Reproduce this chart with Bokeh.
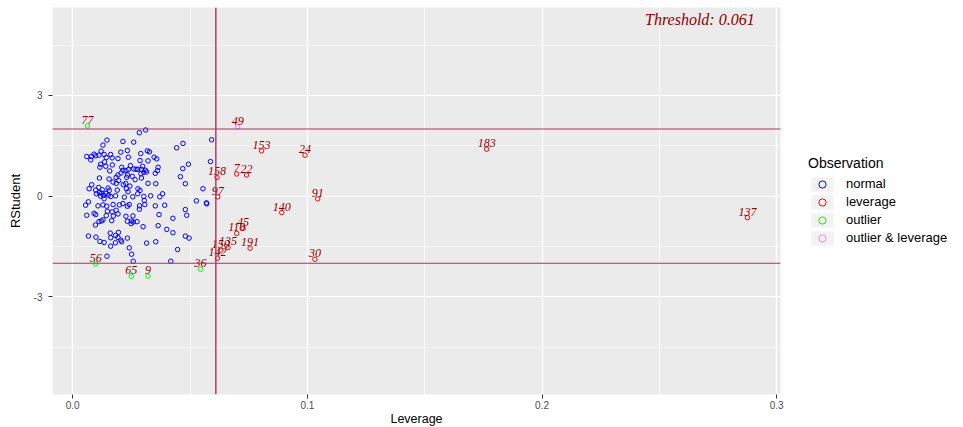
from bokeh.plotting import figure
from bokeh.models import (Range1d, FixedTicker, Span, Label, Legend, LegendItem,
                          ColumnDataSource)
from bokeh.core.properties import value
from bokeh.embed import file_html
from bokeh.resources import INLINE

# ---------------- data ----------------
threshold = 0.061
rstudent_limits = [-2, 2]

x_ticks = [0.0, 0.1, 0.2, 0.3]
x_tick_labels = ["0.0", "0.1", "0.2", "0.3"]
x_minor = [0.05, 0.15, 0.25]
y_ticks = [-3, 0, 3]
y_tick_labels = ["-3", "0", "3"]
y_minor = [-4.5, -1.5, 1.5, 4.5]

normal_lev = [0.0311,0.0284,0.0146,0.0214,0.0260,0.0129,0.0592,0.0470,0.0443,0.0121,
              0.0233,0.0205,0.0318,0.0327,0.0290,0.0091,0.0098,0.0080,0.0060,0.0077,
              0.0112,0.0134,0.0162,0.0168,0.0143,0.0193,0.0237,0.0347,0.0358,0.0321,
              0.0136,0.0287,0.0119,0.0116,0.0141,0.0158,0.0169,0.0493,0.0209,0.0246,
              0.0260,0.0237,0.0227,0.0214,0.0206,0.0193,0.0278,0.0270,0.0293,0.0310,
              0.0315,0.0303,0.0291,0.0364,0.0361,0.0352,0.0298,0.0469,0.0587,0.0114,
              0.0155,0.0185,0.0196,0.0186,0.0172,0.0234,0.0230,0.0254,0.0216,0.0226,
              0.0244,0.0266,0.0293,0.0321,0.0354,0.0459,0.0480,0.0081,0.0070,0.0098,
              0.0111,0.0126,0.0124,0.0151,0.0156,0.0142,0.0131,0.0119,0.0114,0.0101,
              0.0134,0.0190,0.0229,0.0236,0.0278,0.0287,0.0277,0.0183,0.0162,0.0152,
              0.0220,0.0256,0.0303,0.0332,0.0371,0.0383,0.0305,0.0555,0.0527,0.0570,
              0.0571,0.0055,0.0067,0.0108,0.0129,0.0145,0.0172,0.0199,0.0214,0.0233,
              0.0241,0.0285,0.0307,0.0352,0.0392,0.0480,0.0486,0.0148,0.0168,0.0185,
              0.0193,0.0173,0.0143,0.0098,0.0091,0.0060,0.0227,0.0257,0.0284,0.0368,
              0.0122,0.0112,0.0129,0.0097,0.0166,0.0233,0.0250,0.0258,0.0274,0.0249,
              0.0300,0.0364,0.0401,0.0427,0.0427,0.0067,0.0099,0.0116,0.0134,0.0160,
              0.0162,0.0183,0.0195,0.0193,0.0209,0.0182,0.0162,0.0233,0.0205,0.0480,
              0.0496,0.0315,0.0354,0.0241,0.0251,0.0146,0.0447,0.0258,0.0418]
normal_rstud = [1.97,1.89,1.67,1.63,1.61,1.52,1.68,1.57,1.44,1.34,
                1.36,1.31,1.35,1.32,1.27,1.25,1.20,1.18,1.18,1.08,
                1.22,1.24,1.24,1.14,1.15,1.12,1.16,1.16,1.11,1.05,
                1.02,1.06,0.95,0.86,0.89,0.75,0.93,0.95,0.86,0.91,
                0.81,0.79,0.76,0.77,0.69,0.63,0.80,0.80,0.80,0.77,
                0.72,0.71,0.67,0.86,0.76,0.68,0.89,0.82,1.03,0.54,
                0.51,0.56,0.46,0.38,0.42,0.63,0.56,0.59,0.34,0.38,
                0.30,0.49,0.54,0.38,0.37,0.58,0.37,0.34,0.22,0.18,
                0.26,0.19,0.09,0.24,0.17,0.08,0.02,0.00,0.10,0.07,
                -0.08,0.18,0.22,0.13,0.22,0.17,0.07,0.01,-0.01,0.03,
                -0.03,-0.02,-0.01,0.01,-0.02,0.07,-0.13,0.22,-0.14,-0.20,
                -0.23,-0.27,-0.17,-0.29,-0.26,-0.30,-0.25,-0.26,-0.22,-0.30,
                -0.25,-0.29,-0.25,-0.29,-0.27,-0.40,-0.57,-0.45,-0.47,-0.42,
                -0.53,-0.59,-0.58,-0.55,-0.51,-0.57,-0.60,-0.59,-0.39,-0.55,
                -0.74,-0.76,-0.71,-0.86,-0.73,-0.75,-0.74,-0.77,-0.76,-0.82,
                -0.91,-0.88,-0.99,-1.09,-0.66,-1.19,-1.22,-1.35,-1.38,-1.10,
                -1.24,-1.17,-1.08,-1.23,-1.36,-1.39,-1.49,-1.25,-1.31,-1.19,
                -1.25,-1.40,-1.36,-1.54,-1.73,-1.79,-1.59,-1.94,-1.94]

leverage_ids = ["158", "7", "22", "153", "24", "97", "91", "140", "45", "110",
                "191", "135", "150", "142", "30", "183", "137"]
leverage_lev = [0.0615, 0.0699, 0.0741, 0.0805, 0.0990, 0.0618, 0.1044, 0.0891, 0.0726, 0.0699,
                0.0756, 0.0662, 0.0631, 0.0617, 0.1032, 0.1764, 0.2875]
leverage_rstud = [0.56, 0.66, 0.63, 1.35, 1.22, -0.02, -0.08, -0.49, -0.96, -1.11,
                  -1.55, -1.53, -1.61, -1.85, -1.88, 1.40, -0.64]

outlier_ids = ["77", "56", "65", "9", "36"]
outlier_lev = [0.0063, 0.0098, 0.0250, 0.0321, 0.0545]
outlier_rstud = [2.09, -2.02, -2.39, -2.38, -2.18]

both_ids = ["49"]
both_lev = [0.0703]
both_rstud = [2.06]

groups = ["normal", "leverage", "outlier", "outlier & leverage"]
group_colors = ["#0000FF", "#FF0000", "#00FF00", "#EE82EE"]

# ---------------- figure ----------------
SANS = "Liberation Sans"
SERIF = "Liberation Serif"

p = figure(frame_width=728, frame_height=387,
           x_range=Range1d(-0.0086, 0.3016), y_range=Range1d(-5.91, 5.62),
           output_backend="svg", toolbar_location=None,
           min_border_left=52, min_border_right=183, min_border_top=7, min_border_bottom=30,
           background_fill_color="#EBEBEB", border_fill_color="white",
           outline_line_color=None)

p.xaxis.ticker = FixedTicker(ticks=x_ticks, minor_ticks=x_minor)
p.yaxis.ticker = FixedTicker(ticks=y_ticks, minor_ticks=y_minor)
p.xaxis.major_label_overrides = dict(zip(x_ticks, x_tick_labels))
p.yaxis.major_label_overrides = dict(zip(y_ticks, y_tick_labels))

for ax in (p.xaxis, p.yaxis):
    ax.axis_line_color = None
    ax.major_tick_line_color = "#333333"
    ax.major_tick_in = 0
    ax.major_tick_out = 4
    ax.minor_tick_line_color = None
    ax.major_label_text_font = SANS
    ax.major_label_text_font_size = "10px"
    ax.major_label_text_color = "#4D4D4D"
    ax.axis_label_text_font = SANS
    ax.axis_label_text_font_style = "normal"
    ax.axis_label_text_font_size = "13px"
    ax.axis_label_text_color = "#000000"

p.xaxis.axis_label = "Leverage"
p.yaxis.axis_label = "RStudent"
p.xaxis.axis_label_text_font_size = "12.5px"
p.xaxis.major_label_standoff = 2
p.xaxis.axis_label_standoff = 0
p.yaxis.major_label_standoff = 6
p.yaxis.axis_label_standoff = 8

p.xgrid.grid_line_color = "white"
p.xgrid.grid_line_width = 1.4
p.xgrid.minor_grid_line_color = "white"
p.xgrid.minor_grid_line_width = 0.7
p.ygrid.grid_line_color = "white"
p.ygrid.grid_line_width = 1.0
p.ygrid.minor_grid_line_color = "white"
p.ygrid.minor_grid_line_width = 0.5

# threshold reference lines
for v in rstudent_limits:
    p.add_layout(Span(location=v, dimension="width", line_color="#B03060", line_width=1))
p.add_layout(Span(location=threshold, dimension="height", line_color="#B03060", line_width=1.4))

# legend key backgrounds (a renderer with no visible mark)
nan = float("nan")
key_bg = p.quad(left=[nan], right=[nan], top=[nan], bottom=[nan],
                fill_color="#F2F2F2", line_color=None)

sources = [
    ColumnDataSource(dict(x=normal_lev, y=normal_rstud)),
    ColumnDataSource(dict(x=leverage_lev, y=leverage_rstud, t=leverage_ids)),
    ColumnDataSource(dict(x=outlier_lev, y=outlier_rstud, t=outlier_ids)),
    ColumnDataSource(dict(x=both_lev, y=both_rstud, t=both_ids)),
]

renderers = []
for src, col in zip(sources, group_colors):
    r = p.scatter("x", "y", source=src, marker="circle", size=4.5,
                  fill_color=None, line_color=col, line_width=1)
    renderers.append(r)

for src in sources[1:]:
    p.text("x", "y", text="t", source=src, text_font=value(SERIF),
           text_font_style="italic", text_font_size="12px", text_color="#8B0000",
           text_align="center", text_baseline="alphabetic", y_offset=-6)

p.add_layout(Label(x=0.2906, y=5.27, text="Threshold: " + str(threshold),
                   text_font=SERIF, text_font_style="italic", text_font_size="16px",
                   text_color="#8B0000", text_align="right", text_baseline="middle"))

legend = Legend(items=[LegendItem(label=g, renderers=[key_bg, r]) for g, r in zip(groups, renderers)],
                title="Observation", location="center_left",
                title_text_font=SANS, title_text_font_size="14px", title_text_font_style="normal",
                title_text_color="#000000", title_standoff=4,
                label_text_font=SANS, label_text_font_size="13px", label_text_color="#000000",
                glyph_width=28, glyph_height=18, label_height=18, label_standoff=10,
                spacing=0, padding=0, margin=28, border_line_color=None,
                background_fill_alpha=0)
p.add_layout(legend, "right")

open("out.html", "w").write(file_html(p, INLINE))
